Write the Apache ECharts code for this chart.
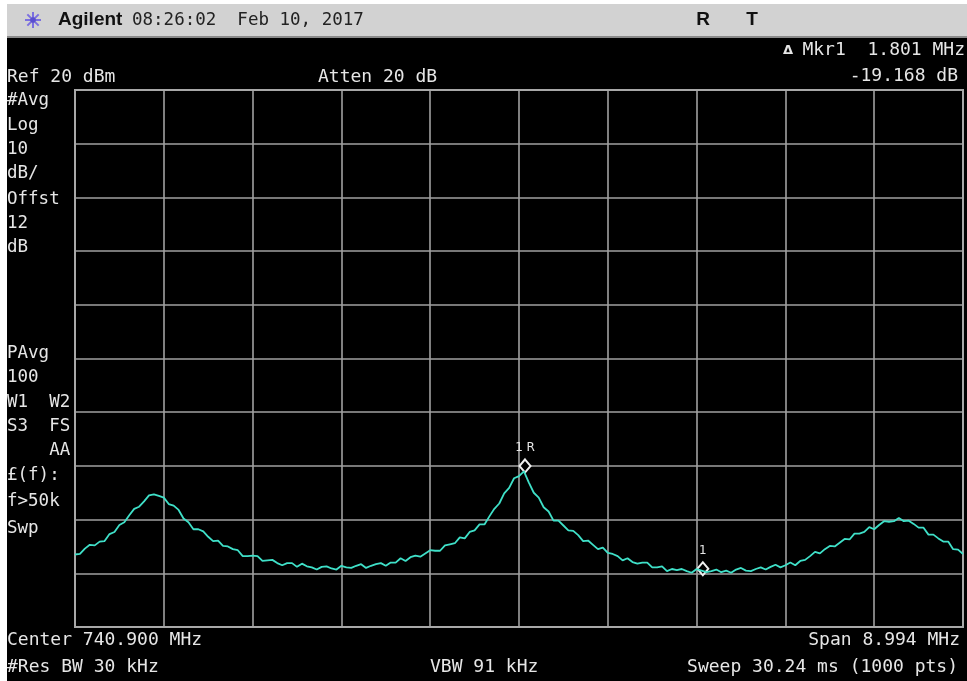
<!DOCTYPE html>
<html>
<head>
<meta charset="utf-8">
<style>
  html, body { margin: 0; padding: 0; background: #fff; }
  #chart { width: 967px; height: 681px; }
</style>
<script src="https://cdn.jsdelivr.net/npm/echarts@6/dist/echarts.min.js"></script>
</head>
<body>
<div id="chart"></div>
<script>
// ---- instrument settings ----
const centerMHz = 740.900;
const spanMHz = 8.994;
const refLevel = 20;      // dBm, top of screen
const dbPerDiv = 10;
const divisions = 10;

// ---- trace levels (dBm), equally spaced sweep points from start to stop ----
const traceLevels = [
  -66.5, -66.4, -65.4, -64.7, -64.8, -64.1, -64.0, -62.7, -62.3, -61.0,
  -60.5, -59.2, -58.0, -57.6, -56.6, -55.5, -55.3, -55.6, -55.9, -57.1,
  -57.4, -58.2, -59.8, -60.5, -61.8, -61.8, -62.2, -63.2, -64.0, -63.9,
  -64.9, -65.0, -65.5, -65.7, -66.8, -66.8, -66.7, -66.8, -67.7, -67.6,
  -67.5, -68.1, -68.5, -68.1, -68.1, -68.8, -68.2, -68.7, -68.9, -69.3,
  -68.8, -68.7, -69.1, -69.3, -68.6, -68.9, -69.0, -68.6, -68.3, -69.0,
  -68.6, -68.3, -68.1, -68.6, -68.0, -68.0, -67.2, -67.7, -67.0, -66.7,
  -66.9, -66.3, -65.7, -65.8, -65.8, -64.8, -64.6, -64.4, -63.3, -63.5,
  -62.3, -62.0, -60.9, -60.9, -59.4, -58.0, -57.0, -55.1, -54.1, -52.3,
  -51.9, -51.0, -53.1, -55.0, -55.9, -57.7, -58.5, -60.2, -60.2, -61.1,
  -62.0, -62.1, -62.9, -64.0, -63.9, -64.7, -65.5, -65.2, -66.2, -66.4,
  -66.8, -67.6, -67.2, -67.9, -68.2, -68.0, -68.0, -68.9, -68.9, -68.7,
  -69.6, -69.2, -69.4, -69.2, -69.6, -69.9, -69.2, -69.5, -69.8, -69.6,
  -69.3, -69.8, -69.5, -69.9, -69.3, -69.0, -69.5, -69.6, -69.2, -68.9,
  -69.3, -68.8, -68.4, -68.9, -68.5, -68.0, -68.5, -67.7, -67.5, -66.8,
  -66.0, -66.3, -65.5, -64.9, -65.0, -64.3, -63.6, -63.7, -62.6, -62.6,
  -62.3, -61.4, -61.8, -61.0, -60.3, -60.4, -60.3, -59.7, -60.3, -60.2,
  -60.8, -61.5, -61.5, -62.8, -62.8, -63.5, -64.1, -64.1, -65.5, -65.6,
  -66.4
];

// ---- markers: offset from center (MHz), level (dBm) ----
const markerRef = { name: '1R', offset: 0.061, level: -50.0 };
const markerDelta = { name: '1', offset: 0.061 + 1.801, level: -50.0 - 19.168 };

const xDiv = spanMHz / divisions;
const traceData = traceLevels.map((v, i) => [
  -spanMHz / 2 + i * spanMHz / (traceLevels.length - 1), v
]);

const TXT = '#e6e6e6';
const MONO = '"DejaVu Sans Mono", "Liberation Mono", monospace';
function t(x, y, text, opts) {
  opts = opts || {};
  return {
    type: 'text', z: 10,
    style: {
      x: x, y: y, text: text,
      fill: opts.fill || TXT,
      font: opts.font || ('18px ' + MONO),
      textAlign: opts.align || 'left',
      textVerticalAlign: 'middle'
    }
  };
}

const leftLabels = [
  ['#Avg', 100], ['Log', 125], ['10', 149], ['dB/', 173], ['Offst', 199],
  ['12', 223], ['dB', 247], ['PAvg', 353], ['100', 377], ['W1  W2', 402],
  ['S3  FS', 426], ['    AA', 450], ['£(f):', 475], ['f>50k', 501], ['Swp', 528]
];

const graphics = [
  { type: 'rect', z: 0, shape: { x: 7, y: 38, width: 960, height: 643 }, style: { fill: '#000' } },
  { type: 'rect', z: 0, shape: { x: 7, y: 4, width: 960, height: 34 }, style: { fill: '#d2d2d2' } },
  { type: 'rect', z: 0, shape: { x: 7, y: 36, width: 960, height: 2 }, style: { fill: '#8a8a8a' } },
  t(58, 20, 'Agilent', { fill: '#111', font: 'bold 19px "Liberation Sans", Arial, sans-serif' }),
  t(132, 20, '08:26:02  Feb 10, 2017', { fill: '#222', font: '17.5px ' + MONO }),
  t(703, 20, 'R', { fill: '#111', font: 'bold 19px "Liberation Sans", Arial, sans-serif', align: 'center' }),
  t(752, 20, 'T', { fill: '#111', font: 'bold 19px "Liberation Sans", Arial, sans-serif', align: 'center' }),
  t(7, 77, 'Ref ' + refLevel + ' dBm'),
  t(318, 77, 'Atten 20 dB'),
  t(788, 51, 'Δ', { font: 'bold 13px "DejaVu Sans", sans-serif', align: 'center' }),
  t(965, 50, 'Mkr1  1.801 MHz', { align: 'right' }),
  t(958, 76, '-19.168 dB', { align: 'right' }),
  t(7, 640, 'Center ' + centerMHz.toFixed(3) + ' MHz'),
  t(960, 640, 'Span ' + spanMHz.toFixed(3) + ' MHz', { align: 'right' }),
  t(7, 667, '#Res BW 30 kHz'),
  t(430, 667, 'VBW 91 kHz'),
  t(958, 667, 'Sweep 30.24 ms (1000 pts)', { align: 'right' })
];
leftLabels.forEach(l => graphics.push(t(7, l[1], l[0], { font: '17.5px ' + MONO })));

// starburst logo
const cx = 33, cy = 20;
for (let k = 0; k < 8; k++) {
  const a = k * Math.PI / 4;
  graphics.push({
    type: 'line', z: 10,
    shape: { x1: cx + 3 * Math.cos(a), y1: cy + 3 * Math.sin(a), x2: cx + 8 * Math.cos(a), y2: cy + 8 * Math.sin(a) },
    style: { stroke: '#7b6fe0', lineWidth: 2 }
  });
}
graphics.push({ type: 'circle', z: 10, shape: { cx: cx, cy: cy, r: 3 }, style: { fill: '#5a4fd0' } });

const chart = echarts.init(document.getElementById('chart'), null, { renderer: 'canvas' });
chart.setOption({
  animation: false,
  backgroundColor: '#fff',
  graphic: graphics,
  grid: {
    left: 75, right: 4, top: 90, bottom: 54,
    show: true, borderColor: '#a8a8a8', borderWidth: 2, z: 5
  },
  xAxis: {
    type: 'value',
    min: -spanMHz / 2, max: spanMHz / 2, interval: xDiv,
    axisLine: { show: false }, axisTick: { show: false }, axisLabel: { show: false },
    splitLine: { show: true, lineStyle: { color: '#a0a0a0', width: 1.6 } }
  },
  yAxis: {
    type: 'value',
    min: refLevel - dbPerDiv * divisions, max: refLevel, interval: dbPerDiv,
    axisLine: { show: false }, axisTick: { show: false }, axisLabel: { show: false },
    splitLine: { show: true, lineStyle: { color: '#a0a0a0', width: 1.6 } }
  },
  series: [{
    type: 'line',
    data: traceData,
    showSymbol: false,
    lineStyle: { color: '#3fe0c8', width: 1.8 },
    z: 6,
    markPoint: {
      symbol: 'diamond',
      symbolSize: [11, 13],
      itemStyle: { color: '#000', borderColor: '#f0f0f0', borderWidth: 2 },
      label: {
        show: true, position: 'top', distance: 4,
        color: TXT, fontFamily: '"DejaVu Sans", sans-serif', fontSize: 12,
        formatter: p => p.name.split('').join(' ')
      },
      data: [
        { name: markerRef.name, coord: [markerRef.offset, markerRef.level] },
        { name: markerDelta.name, coord: [markerDelta.offset, markerDelta.level] }
      ]
    }
  }]
});
</script>
</body>
</html>
